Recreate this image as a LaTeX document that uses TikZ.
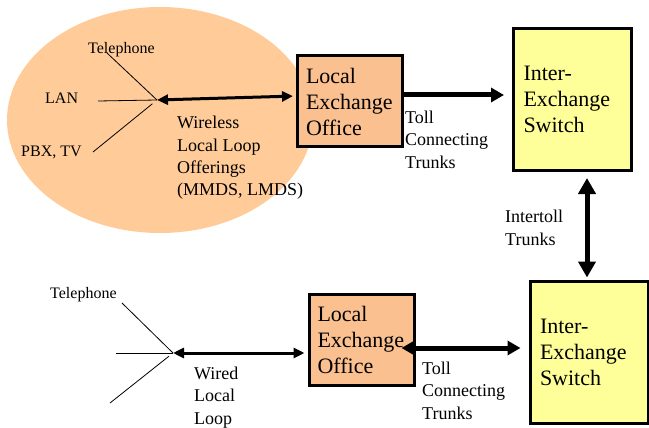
\documentclass[tikz,border=0pt]{standalone}
\usepackage{fontspec}
\setmainfont{Liberation Serif}
\usetikzlibrary{arrows.meta}
\usetikzlibrary{shapes.geometric}

\definecolor{peach}{HTML}{FFCC99}
\definecolor{boxpeach}{HTML}{FAC090}
\definecolor{paleyellow}{HTML}{FFFF99}

\begin{document}
\begin{tikzpicture}[x=1pt, y=-1pt,
    office/.style={draw, line width=3pt, fill=boxpeach, text width=88pt, inner xsep=8.5pt,
        minimum height=91pt, align=left, font=\fontsize{22}{26}\selectfont},
    switchbox/.style={draw, line width=3pt, fill=paleyellow, text width=98pt, inner xsep=10pt,
        minimum height=142pt, align=left, font=\fontsize{22}{26}\selectfont},
    small/.style={inner sep=0pt, anchor=base west, font=\fontsize{16}{19}\selectfont},
    lbl/.style={inner sep=0pt, anchor=base west, align=left, font=\fontsize{18}{22.5}\selectfont},
    feed/.style={line width=0.8pt},
    loop/.style={line width=3pt, {Triangle[length=11pt,width=10pt]}-{Triangle[length=11pt,width=10pt]}},
    trunk/.style={line width=5pt, -{Triangle[length=13pt,width=14pt]}}]
    \useasboundingbox (0,0) rectangle (649,428);

    \node[ellipse, fill=peach, minimum width=306pt, minimum height=226pt] (cloud) at (160,120) {};

    \node[office] (topleo) at (350,101.5) {Local\\Exchange\\Office};
    \node[switchbox] (topies) at (572.5,99.5) {Inter-\\Exchange\\Switch};
    \node[office] (botleo) at (361.5,339.5) {Local\\Exchange\\Office};
    \node[switchbox] (boties) at (589,352) {Inter-\\Exchange\\Switch};

    \coordinate (hubA) at (157,100);
    \coordinate (telA) at (107,53);
    \coordinate (lanA) at (98,101);
    \coordinate (pbxA) at (93,152);
    \coordinate (hubB) at (173,353);
    \coordinate (telB) at (122,303);
    \coordinate (lanB) at (116,353);
    \coordinate (pbxB) at (110,403);

    % multi-line labels sit on the baseline of their last line
    \node[small] (tel1) at (88,54) {Telephone};
    \node[small] (lan1) at (45,104) {LAN};
    \node[small] (pbx1) at (21,157) {PBX, TV};
    \node[lbl] (wireless) at (177,196) {Wireless\\Local Loop\\Offerings\\(MMDS, LMDS)};
    \node[lbl] (toll1) at (405,168) {Toll\\Connecting\\Trunks};
    \node[lbl] (intertoll) at (505,245) {Intertoll\\Trunks};
    \node[small] (tel2) at (50,298) {Telephone};
    \node[lbl] (wired) at (194,424) {Wired\\Local\\Loop};
    \node[lbl] (toll2) at (422,419) {Toll\\Connecting\\Trunks};

    \draw[feed] (telA) -- (hubA);
    \draw[feed] (lanA) -- (hubA);
    \draw[feed, shorten >=6pt] (pbxA) -- (hubA);
    \draw[feed] (telB) -- (hubB);
    \draw[feed] (lanB) -- (hubB);
    \draw[feed, shorten >=5pt] (pbxB) -- (hubB);

    \draw[loop, shorten >=3pt] (hubA) -- ([yshift=5.5pt]topleo.west);
    \draw[loop, shorten >=3pt] (hubB) -- ([yshift=-13.5pt]botleo.west);

    \draw[trunk, shorten >=8pt] ([yshift=6.5pt]topleo.east) -- ([yshift=4.5pt]topies.west);
    \draw[trunk, <->, >={Triangle[length=16pt,width=17pt]}, shorten <=6pt, shorten >=2pt]
        ([xshift=14.5pt]topies.south) -- ([xshift=-2pt]boties.north);
    \draw[trunk, {Triangle[length=13pt,width=14pt]}-{Triangle[length=13pt,width=14pt]},
        shorten <=-14pt, shorten >=8pt] ([yshift=-8.5pt]botleo.east) -- ([yshift=4pt]boties.west);
\end{tikzpicture}
\end{document}
